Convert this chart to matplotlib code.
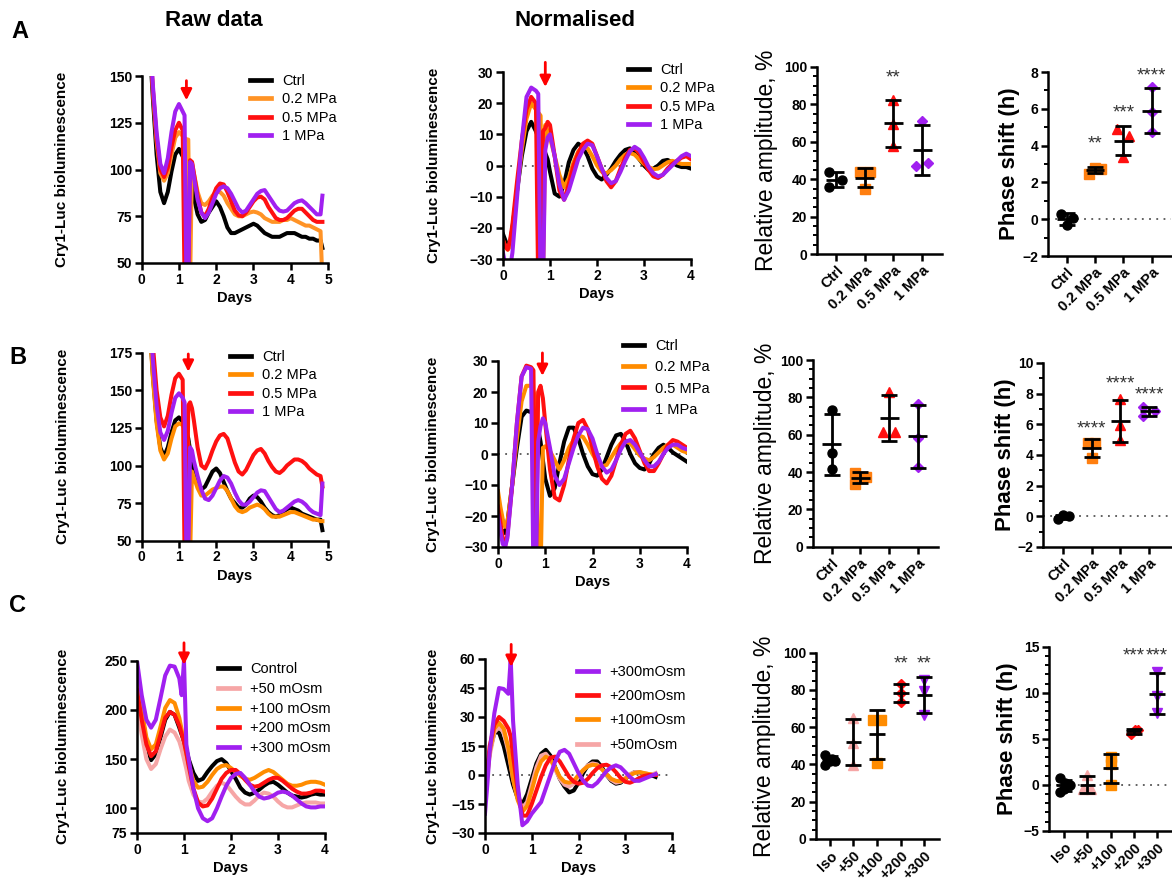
import numpy as np
import matplotlib
matplotlib.use('Agg')
import matplotlib.pyplot as plt
from matplotlib.lines import Line2D
from matplotlib.ticker import MultipleLocator

plt.rcParams['font.family'] = ['Liberation Sans', 'DejaVu Sans']
plt.rcParams['font.weight'] = 'bold'
plt.rcParams['axes.labelweight'] = 'bold'

W, H = 1172, 881

BLACK = 'black'
ORANGE = '#FF9326'
RED = '#FF1010'
PURPLE = '#A020F0'
PINK = '#F6A6A6'

# ---------------- time series (days, bioluminescence) ----------------
days_raw = [0, 0.1, 0.2, 0.3, 0.4, 0.5, 0.6, 0.7, 0.8, 0.9, 1.0, 1.1, 1.15, 1.2, 1.25, 1.3, 1.35,
            1.4, 1.5, 1.6, 1.7, 1.8, 1.9, 2.0, 2.1, 2.2, 2.3, 2.4, 2.5, 2.6, 2.7, 2.8, 2.9, 3.0,
            3.1, 3.2, 3.3, 3.4, 3.5, 3.6, 3.7, 3.8, 3.9, 4.0, 4.1, 4.2, 4.3, 4.4, 4.5, 4.6, 4.7,
            4.8, 4.85]

a_raw_ctrl = [260, 215, 172, 138, 108, 88, 82, 88, 99, 108, 111, 107, 105, 103, 102, 100, 92,
              85, 76, 72, 73, 77, 80, 83, 80, 75, 69, 66, 66, 67, 68, 69, 70, 71,
              70, 68, 66, 65, 64, 64, 64, 65, 66, 66, 66, 65, 64, 64, 63, 63, 62, 62, 58]
a_raw_02 = [260, 218, 176, 142, 115, 98, 94, 98, 108, 117, 120, 118, 117, 116, 116, 40, 104,
            98, 88, 82, 81, 83, 86, 88, 88, 86, 82, 79, 76, 75, 75, 76, 77, 77.5,
            77, 76, 74, 73, 72, 72, 72, 73, 73, 74, 73, 72, 71, 70, 70, 69, 68, 67, 40]
a_raw_05 = [260, 218, 176, 143, 117, 100, 96, 101, 112, 121, 125, 121, 40, 40, 40, 105, 104,
            98, 86, 77, 75, 79, 85, 90, 92.5, 92, 88, 83, 78, 75.5, 75, 77, 80, 83,
            85, 85.5, 84, 80, 77, 74, 73, 73, 74, 76, 78, 79, 79, 77, 75, 73, 72, 72, 72]
a_raw_1 = [260, 220, 178, 145, 120, 103, 98, 106, 120, 131, 135, 131, 129, 40, 40, 104, 103,
           96, 84, 77, 74, 77, 82, 87, 90, 91, 90, 87, 83, 79, 77, 78, 81, 84,
           87, 88.5, 89, 86, 83, 80, 78, 77.5, 78, 80, 82, 83, 83.5, 82, 80, 78, 76, 76, 86]

b_raw_ctrl = [300, 250, 200, 160, 130, 112, 106, 112, 122, 130, 132, 129, 126, 123, 118, 110, 102,
              96, 88, 84, 86, 91, 96, 98, 95, 89, 83, 78, 75, 72, 72, 74, 78, 80,
              79, 76, 72, 69, 67, 66, 67, 69, 71, 72, 71, 70, 68, 67, 66, 65, 64, 64, 57]
b_raw_02 = [300, 248, 198, 158, 128, 110, 104, 108, 118, 126, 128, 127, 124, 120, 115, 40, 96,
            92, 85, 80, 80, 82, 84, 85, 86, 86, 83, 78, 73, 70, 69, 70, 72, 73,
            74, 73, 71, 68, 66, 66, 66, 67, 68, 69, 69, 68, 67, 66, 65, 64, 64, 63, 63]
b_raw_05 = [320, 270, 220, 180, 150, 132, 126, 133, 147, 158, 161, 157, 40, 40, 140, 142, 138,
            130, 112, 100, 98, 103, 110, 116, 120, 121, 118, 110, 102, 96, 94, 97, 102, 107,
            110, 111, 108, 103, 99, 96, 95, 97, 100, 102, 104, 104, 103, 101, 98, 96, 94, 93, 86]
b_raw_1 = [310, 260, 210, 170, 140, 122, 117, 123, 135, 145, 148, 145, 142, 40, 40, 112, 110,
           103, 93, 84, 78, 77, 80, 85, 90, 93, 92, 88, 82, 77, 74, 74, 76, 79,
           82, 83.5, 83, 79, 75, 71, 69, 70, 72, 74, 76, 77, 76, 74, 71, 69, 68, 67, 88]

days_norm = [0, 0.05, 0.1, 0.15, 0.2, 0.3, 0.4, 0.5, 0.6, 0.7, 0.75, 0.8, 0.85, 0.9, 0.95, 1.0,
             1.1, 1.2, 1.3, 1.4, 1.5, 1.6, 1.7, 1.8, 1.9, 2.0, 2.1, 2.2, 2.3, 2.4, 2.5, 2.6,
             2.7, 2.8, 2.9, 3.0, 3.1, 3.2, 3.3, 3.4, 3.5, 3.6, 3.7, 3.8, 3.9, 4.0]

a_norm_ctrl = [-22, -24, -26, -25, -20, -8, 3, 11, 14, 11, 9, 6, 5, 4, 2, -2,
               -9, -10, -6, 1, 5, 7, 6, 3, -1, -3.5, -4.5, -3, -1, 1.5, 3.5, 5,
               5.5, 4, 2, 0, -1.5, -1, 0, 1.5, 1.8, 1, 0, -0.5, -0.5, -1]
a_norm_02 = [-24, -26, -27, -26, -21, -8, 5, 15, 20, 18, 17, 16, -40, 13, 11, 9,
             3, -3, -7, -4, 1, 4.5, 6, 5.5, 3, 0, -2, -2.5, -1.5, 0, 2, 3.5,
             4, 3.5, 2, 0.5, -0.5, -1.2, -1, 0, 1, 1.5, 1, 0.5, 0.5, 0.5]
a_norm_05 = [-24, -26, -27, -24, -19, -5, 8, 18, 22, 20, -40, -40, 11, 12, 14, 13,
             3, -8, -11, -6, 0, 4, 7, 8, 7, 3, -1, -5, -7, -5, -1, 2.5,
             5, 5.5, 4, 1, -1.5, -3.5, -4, -3, -1, 0.5, 1.5, 2.5, 3, 2]
a_norm_1 = [-28, -32, -35, -33, -28, -10, 8, 22, 25, 24, 23, -40, -40, 5, 9, 10,
            3, -6, -11, -8, -3, 2, 5, 7, 6.5, 3, -1, -4, -5.7, -5, -2, 1.5,
            4.5, 6, 5, 2.5, -0.5, -2.5, -3.5, -3, -1.5, 0, 1.5, 3, 3.8, 3]

b_norm_ctrl = [-22, -24, -25, -25.5, -22, -10, 2, 12, 14, 13.5, 13, 11, 8, 4, -2, -8,
               -13.5, -11, -3, 4, 8.5, 8.5, 5, 0, -4, -6.5, -7, -5, -1, 3, 6, 6.5,
               4, 0, -3, -4.5, -5, -3, 0, 2, 3, 2, 0.5, -0.5, -1.5, -2.5]
b_norm_02 = [-12, -17, -21, -23.5, -22, -10, 5, 17, 22, 22, 20, 18, -40, -40, 2, 2.5,
             1, -2, -5, -2, 2, 4.5, 6, 5.5, 3, 0, -2.5, -4, -3.5, -1, 1.5, 3.5,
             4, 3.5, 1.5, -0.5, -1.5, -2, -1, 0.5, 2, 3, 3, 2, 1, 0.5]
b_norm_05 = [-17, -22, -27, -29.8, -26, -10, 10, 25, 28.5, 28, 27, -40, 20, 22, 18, 10,
             -5, -14, -15, -10, -2, 5, 10, 11, 8, 2, -4, -8, -9.5, -7, -2, 3,
             6.5, 7.5, 5, 1, -3, -5.5, -5.5, -3, 0, 3, 4.5, 4, 3, 2]
b_norm_1 = [-20, -25, -29, -30, -27, -10, 10, 25, 28, 27.5, -40, -40, 4, 9, 11.5, 10,
            2, -7, -10, -8, -3, 2, 6, 8.5, 8, 5, 0, -4, -6, -5, -2, 1.5,
            4, 4.5, 3, 0.5, -2, -4, -4, -2.5, 0, 2, 3, 3, 2, 1.5]

days_c_raw = [0, 0.1, 0.2, 0.3, 0.4, 0.5, 0.6, 0.7, 0.8, 0.9, 0.95, 1.0, 1.05, 1.1, 1.2, 1.3,
              1.4, 1.5, 1.6, 1.7, 1.8, 1.9, 2.0, 2.1, 2.2, 2.3, 2.4, 2.5, 2.6, 2.7, 2.8, 2.9,
              3.0, 3.1, 3.2, 3.3, 3.4, 3.5, 3.6, 3.7, 3.8, 3.9, 4.0]
c_raw_ctrl = [245, 200, 165, 149, 155, 172, 190, 198, 195, 182, 175, 168, 160, 150, 136, 128,
              130, 137, 143, 148, 150, 146, 138, 130, 121, 116, 114, 116, 119, 123, 126, 127,
              124, 120, 116, 113, 112, 111, 112, 114, 115, 114, 114]
c_raw_50 = [205, 175, 150, 140, 145, 160, 173, 180, 177, 168, 160, 150, 140, 128, 114, 107,
            106, 110, 117, 123, 126, 124, 118, 112, 107, 104, 104, 108, 113, 116, 115, 112,
            107, 103, 101, 101, 103, 105, 106, 106, 106, 105, 105]
c_raw_100 = [230, 200, 172, 160, 165, 183, 202, 210, 207, 192, 180, 168, 156, 145, 128, 121,
             122, 127, 134, 140, 143, 144, 141, 137, 133, 130, 129, 131, 134, 137, 139, 137,
             133, 129, 125, 123, 123, 124, 126, 127, 127, 126, 124]
c_raw_200 = [220, 190, 165, 153, 158, 175, 192, 198, 195, 184, 176, 167, 156, 143, 120, 106,
             102, 103, 110, 120, 130, 136, 139, 139, 135, 129, 124, 122, 123, 126, 129, 131,
             131, 128, 124, 120, 117, 115, 115, 116, 118, 118, 117]
c_raw_300 = [250, 215, 190, 182, 190, 212, 235, 245, 244, 232, 215, 250, 165, 150, 120, 100,
             90, 87, 90, 100, 112, 123, 131, 135, 136, 131, 124, 117, 112, 110, 111, 113,
             116, 117, 116, 113, 109, 105, 102, 101, 101, 102, 102]

days_c_norm = [0, 0.05, 0.1, 0.2, 0.3, 0.4, 0.5, 0.55, 0.6, 0.7, 0.8, 0.9, 1.0, 1.1, 1.2, 1.3,
               1.4, 1.5, 1.6, 1.7, 1.8, 1.9, 2.0, 2.1, 2.2, 2.3, 2.4, 2.5, 2.6, 2.7, 2.8, 2.9,
               3.0, 3.1, 3.2, 3.3, 3.4, 3.5, 3.6, 3.65]
c_norm_ctrl = [-10, 2, 12, 22, 22, 15, 5, 0, -5, -12, -15, -10, -2, 6, 11, 13,
               10, 4, -2, -6, -9, -8, -4, 1, 5, 7, 7, 4, 0, -3, -4.5, -4,
               -2, 0, 1.5, 1.5, 0.5, -0.5, -0.5, -1]
c_norm_50 = [-12, 0, 10, 22, 25, 22, 12, 5, -2, -12, -17, -14, -5, 4, 10, 11,
             8, 3, -2, -5, -6, -4.5, -1, 2.5, 5, 6, 5.5, 3, 0, -2.5, -4, -3.5,
             -1.5, 0.5, 1.5, 1.5, 1, 0.5, 0.5, 1]
c_norm_100 = [-12, 0, 12, 24, 27, 24, 14, 6, -2, -13, -19, -16, -8, 1, 7, 9.5,
              8, 4, -1, -3.5, -4, -3, 0, 2.5, 4.5, 5.3, 5, 3, 0.5, -2, -3, -3.3,
              -2, 0, 1, 1.5, 1, 0.5, 0, 0]
c_norm_200 = [-12, 2, 15, 26, 30, 28, 24, 20, 10, -8, -21, -21, -15, -8, -1, 5,
              9, 9.5, 7, 3, -1, -3.5, -4.5, -4, -2, 1, 3.5, 5, 5.3, 4, 1.5, -1.5,
              -3.5, -4, -3, -1.5, -0.5, 0, 0, 0]
c_norm_300 = [-20, -5, 12, 32, 45, 44.5, 42, 60, 28, -5, -26, -24, -20, -17, -14, -7,
              0, 7, 12, 13, 11, 6, 1, -3, -5.5, -5.9, -4, -1, 2, 4, 5, 4,
              1.5, -1, -3, -3, -2, -1, 0, 0.5]

# ---------------- dot plots ----------------
mpa_groups = ['Ctrl', '0.2 MPa', '0.5 MPa', '1 MPa']
osm_groups = ['Iso', '+50', '+100', '+200', '+300']

a_amp = [[43.7, 39.7, 35.8], [43.7, 43.7, 34.8], [82.5, 69.7, 57.6], [70.9, 46.9, 48.7]]
a_phase = [[0.3, -0.33, 0.07], [2.48, 2.8, 2.75], [4.9, 3.4, 4.5], [7.16, 5.8, 4.75]]
b_amp = [[73.2, 50.0, 41.4], [39.6, 37.5, 33.6], [83.0, 61.6, 61.6], [76.4, 58.0, 42.9]]
b_phase = [[-0.2, 0.1, 0.0], [4.78, 4.78, 3.8], [7.67, 5.93, 5.0], [7.1, 6.55, 6.9]]
c_amp = [[45.2, 42.0, 41.6, 39.8, 43.0], [64.8, 51.4, 39.8], [63.9, 63.9, 41.0],
         [83.2, 78.6, 73.75], [85.4, 79.5, 66.6]]
c_phase = [[0.69, 0.2, 0.0, -0.76, -0.5], [1.05, -0.5, -0.5], [3.04, 2.3, 0.0],
           [5.5, 6.0, 5.95], [12.3, 9.6, 7.8]]

# significance labels and the height they sit at
a_amp_stars = [('', 0), ('', 0), ('**', 94), ('', 0)]
a_phase_stars = [('', 0), ('**', 4.1), ('***', 5.8), ('****', 7.8)]
b_amp_stars = [('', 0), ('', 0), ('', 0), ('', 0)]
b_phase_stars = [('', 0), ('****', 5.7), ('****', 8.6), ('****', 7.9)]
c_amp_stars = [('', 0), ('', 0), ('', 0), ('**', 94), ('**', 94)]
c_phase_stars = [('', 0), ('', 0), ('', 0), ('***', 14.0), ('***', 14.0)]

# horizontal scatter of points inside each column (category units)
a_amp_jit = [[-0.24, 0.2, -0.24], [-0.17, 0.17, 0], [0, 0, 0], [0, -0.2, 0.2]]
a_phase_jit = [[-0.21, 0, 0.21], [-0.2, 0, 0.2], [-0.21, 0, 0.2], [0, 0, 0]]
b_amp_jit = [[0, 0, 0], [-0.2, 0.18, -0.2], [0, -0.21, 0.2], [0, 0, 0]]
b_phase_jit = [[-0.17, 0, 0.2], [-0.14, 0.1, 0], [0, 0, 0], [-0.2, -0.2, 0.2]]
c_amp_jit = [[-0.21, 0, 0.21, -0.21, 0.07], [0, 0, 0], [-0.17, 0.18, 0], [0, 0, 0], [0, 0, 0]]
c_phase_jit = [[-0.19, 0.04, 0.26, -0.19, 0], [0, -0.17, 0.17], [0, 0, 0],
               [-0.14, 0.03, 0.17], [0, 0, 0]]

mpa_colors = [BLACK, '#FF7F10', RED, PURPLE]
mpa_markers = ['o', 's', '^', 'D']
mpa_sizes = [6.5, 7, 7, 5.2]
osm_colors = [BLACK, PINK, '#FF8C00', RED, PURPLE]
osm_markers = ['o', '^', 's', 'D', 'v']
osm_sizes = [6.5, 7, 7, 5, 7]

fig = plt.figure(figsize=(W / 100, H / 100), dpi=100)


def px_axes(box):
    l, t, r, b = box
    return fig.add_axes([l / W, 1 - b / H, (r - l) / W, (b - t) / H])


def style(ax):
    for s in ['top', 'right']:
        ax.spines[s].set_visible(False)
    for s in ['left', 'bottom']:
        ax.spines[s].set_linewidth(1.8)
    ax.tick_params(width=1.8, length=5, labelsize=10, pad=2)
    ax.tick_params(which='minor', width=1.4, length=3)


def set_ylabel_px(ax, box, text, xc, **kw):
    l, t, r, b = box
    ax.set_ylabel(text, **kw)
    ax.yaxis.set_label_coords((xc - l) / (r - l), 0.5)
    ax.yaxis.label.set_va('center')


def trace_panel(box, x, series, ylim, yticks, xmax, arrow, legend, lab_x, zero=False):
    ax = px_axes(box)
    style(ax)
    for y, col, lab in series:
        ax.plot(x, y, color=col, lw=2.9, solid_joinstyle='round')
    if zero:
        ax.axhline(0, color='#555555', ls=(0, (1, 3)), lw=1.3, zorder=0)
    ax.set_ylim(*ylim)
    ax.set_yticks(yticks)
    ax.set_xlim(0, xmax)
    ax.set_xticks(range(0, int(xmax) + 1))
    ax.set_xlabel('Days', fontsize=10.5, fontweight='bold', labelpad=3)
    set_ylabel_px(ax, box, 'Cry1-Luc bioluminescence', lab_x, fontsize=11, fontweight='bold')
    ax_x, y0, y1 = arrow
    ax.annotate('', xy=(ax_x, y1), xytext=(ax_x, y0), annotation_clip=False,
                arrowprops=dict(arrowstyle='-|>', color='red', lw=2, mutation_scale=16))
    lx, ly, spacing, order = legend
    handles = [Line2D([], [], color=series[i][1], lw=3.4) for i in order]
    labels = [series[i][2] for i in order]
    fig.legend(handles, labels, loc='upper left', bbox_to_anchor=(lx / W, 1 - ly / H),
               bbox_transform=fig.transFigure, frameon=False, borderpad=0,
               borderaxespad=0, handlelength=1.45, handletextpad=0.75,
               labelspacing=spacing, prop={'size': 10.5, 'weight': 'normal'})
    return ax


def dot_panel(box, groups, values, jitter, colors, markers, sizes, xlim, ylim, yticks, minor,
              label, lab_x, stars, zero=False, bold_label=False):
    ax = px_axes(box)
    style(ax)
    if zero:
        ax.axhline(0, color='#555555', ls=(0, (1, 3)), lw=1.3, zorder=0)
    for i, vals in enumerate(values):
        vals = np.array(vals)
        m, sd = vals.mean(), vals.std(ddof=1)
        xs = [i + j for j in jitter[i]]
        ax.plot(xs, vals, ls='none', marker=markers[i], color=colors[i], ms=sizes[i], zorder=3)
        ax.errorbar(i, m, yerr=sd, color='black', lw=2, capsize=5.5, capthick=2, zorder=4)
        ax.hlines(m, i - 0.33, i + 0.33, color='black', lw=2, zorder=4)
        s, sy = stars[i]
        if s:
            ax.text(i, sy, s, ha='center', va='center', fontsize=13.5,
                    fontweight='normal', color='#333333', clip_on=False)
    ax.set_xlim(*xlim)
    ax.set_ylim(*ylim)
    ax.set_yticks(yticks)
    ax.yaxis.set_minor_locator(MultipleLocator(minor))
    ax.set_xticks(range(len(groups)))
    ax.set_xticklabels(groups, rotation=45, ha='right', rotation_mode='anchor', fontsize=10.5)
    set_ylabel_px(ax, box, label, lab_x, fontsize=16 if bold_label else 16.5,
                  fontweight='bold' if bold_label else 'normal')
    return ax


# ---------------- row A ----------------
box = (141.7, 76, 328, 263)
trace_panel(box, days_raw,
            [(a_raw_ctrl, BLACK, 'Ctrl'), (a_raw_02, ORANGE, '0.2 MPa'),
             (a_raw_05, RED, '0.5 MPa'), (a_raw_1, PURPLE, '1 MPa')],
            (50, 150), [50, 75, 100, 125, 150], 5, (1.2, 149, 135.5),
            (250, 74, 0.3, [0, 1, 2, 3]), 62)

box = (503, 72, 691, 259)
trace_panel(box, days_norm,
            [(a_norm_ctrl, BLACK, 'Ctrl'), (a_norm_02, '#FF8C00', '0.2 MPa'),
             (a_norm_05, RED, '0.5 MPa'), (a_norm_1, PURPLE, '1 MPa')],
            (-30, 30), [-30, -20, -10, 0, 10, 20, 30], 4, (0.9, 34, 24.3),
            (628, 63, 0.3, [0, 1, 2, 3]), 434, zero=True)

box = (817, 67, 942, 254)
dot_panel(box, mpa_groups, a_amp, a_amp_jit, mpa_colors, mpa_markers, mpa_sizes, (-0.66, 3.69),
          (0, 100), [0, 20, 40, 60, 80, 100], 5, 'Relative amplitude, %', 766,
          a_amp_stars)

box = (1048, 72, 1171, 256)
dot_panel(box, mpa_groups, a_phase, a_phase_jit, mpa_colors, mpa_markers, mpa_sizes, (-0.66, 3.68),
          (-2, 8), [-2, 0, 2, 4, 6, 8], 1, 'Phase shift (h)', 1010,
          a_phase_stars, zero=True, bold_label=True)

# ---------------- row B ----------------
box = (141.7, 352.7, 328, 540.7)
trace_panel(box, days_raw,
            [(b_raw_ctrl, BLACK, 'Ctrl'), (b_raw_02, '#FF8C00', '0.2 MPa'),
             (b_raw_05, RED, '0.5 MPa'), (b_raw_1, PURPLE, '1 MPa')],
            (50, 175), [50, 75, 100, 125, 150, 175], 5, (1.25, 176, 160.5),
            (230, 350, 0.3, [0, 1, 2, 3]), 63)

box = (498, 361, 687, 547)
trace_panel(box, days_norm,
            [(b_norm_ctrl, BLACK, 'Ctrl'), (b_norm_02, '#FF8C00', '0.2 MPa'),
             (b_norm_05, RED, '0.5 MPa'), (b_norm_1, PURPLE, '1 MPa')],
            (-30, 30), [-30, -20, -10, 0, 10, 20, 30], 4, (0.94, 33.5, 24.3),
            (623, 339, 0.5, [0, 1, 2, 3]), 433, zero=True)

box = (813, 360, 938, 546.7)
dot_panel(box, mpa_groups, b_amp, b_amp_jit, mpa_colors, mpa_markers, mpa_sizes, (-0.65, 3.7),
          (0, 100), [0, 20, 40, 60, 80, 100], 5, 'Relative amplitude, %', 765,
          b_amp_stars)

box = (1043, 363, 1171, 547)
dot_panel(box, mpa_groups, b_phase, b_phase_jit, mpa_colors, mpa_markers, mpa_sizes, (-0.7, 3.76),
          (-2, 10), [-2, 0, 2, 4, 6, 8, 10], 1, 'Phase shift (h)', 1005,
          b_phase_stars, zero=True, bold_label=True)

# ---------------- row C ----------------
box = (137, 660.7, 325, 833)
trace_panel(box, days_c_raw,
            [(c_raw_ctrl, BLACK, 'Control'), (c_raw_50, PINK, '+50 mOsm'),
             (c_raw_100, '#FF8C00', '+100 mOsm'), (c_raw_200, RED, '+200 mOsm'),
             (c_raw_300, PURPLE, '+300 mOsm')],
            (75, 250), [75, 100, 150, 200, 250], 4, (1.0, 271, 243),
            (218, 662, 0.4, [0, 1, 2, 3, 4]), 63)

box = (485, 659, 672, 833)
trace_panel(box, days_c_norm,
            [(c_norm_ctrl, BLACK, 'Control'), (c_norm_50, PINK, '+50mOsm'),
             (c_norm_100, '#FF8C00', '+100mOsm'), (c_norm_200, RED, '+200mOsm'),
             (c_norm_300, PURPLE, '+300mOsm')],
            (-30, 60), [-30, -15, 0, 15, 30, 45, 60], 4, (0.56, 69, 54.5),
            (577, 665, 0.7, [4, 3, 2, 1]), 433, zero=True)

box = (815.7, 652.7, 939, 839)
dot_panel(box, osm_groups, c_amp, c_amp_jit, osm_colors, osm_markers, osm_sizes, (-0.6, 4.62),
          (0, 100), [0, 20, 40, 60, 80, 100], 5, 'Relative amplitude, %', 765,
          c_amp_stars)

box = (1049, 646.7, 1171, 830.7)
dot_panel(box, osm_groups, c_phase, c_phase_jit, osm_colors, osm_markers, osm_sizes, (-0.65, 4.6),
          (-5, 15), [-5, 0, 5, 10, 15], 1, 'Phase shift (h)', 1008,
          c_phase_stars, zero=True, bold_label=True)

# headers and panel letters
fig.text(214 / W, 1 - 20 / H, 'Raw data', ha='center', va='center', fontsize=16)
fig.text(575 / W, 1 - 20 / H, 'Normalised', ha='center', va='center', fontsize=16)
fig.text(20 / W, 1 - 32 / H, 'A', ha='center', va='center', fontsize=17)
fig.text(18 / W, 1 - 358 / H, 'B', ha='center', va='center', fontsize=17)
fig.text(18 / W, 1 - 605 / H, 'C', ha='center', va='center', fontsize=17)

fig.savefig('out.png', dpi=100)
